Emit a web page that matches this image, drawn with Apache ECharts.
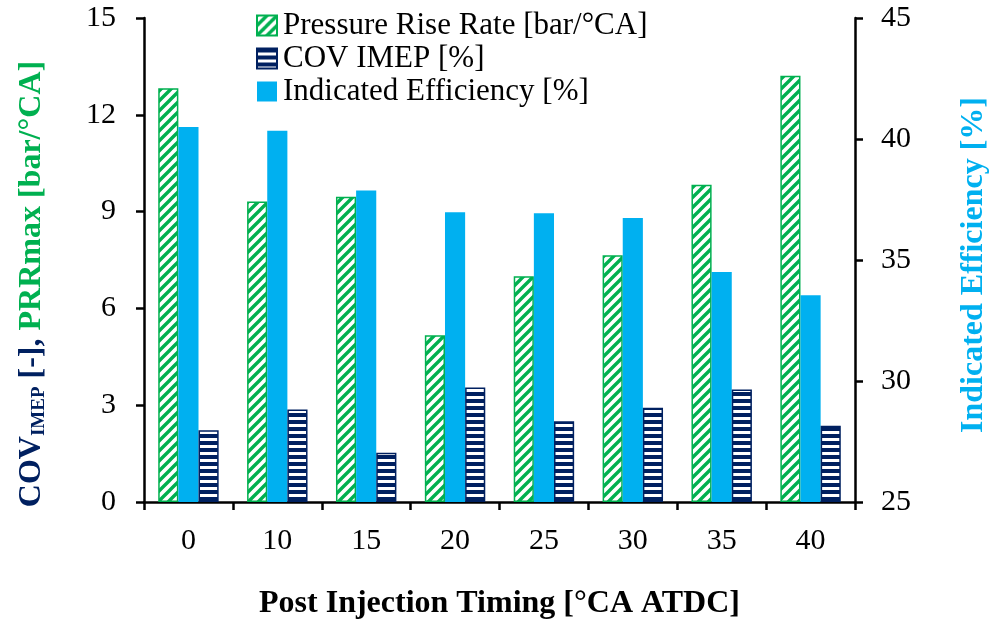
<!DOCTYPE html>
<html>
<head>
<meta charset="utf-8">
<script src="https://cdn.jsdelivr.net/npm/echarts@6/dist/echarts.min.js"></script>
<style>html,body{margin:0;padding:0;background:#fff}#c{width:993px;height:625px}</style>
</head>
<body>
<div id="c"></div>
<script>
const categories = ['0', '10', '15', '20', '25', '30', '35', '40'];
const prrValues = [12.82, 9.31, 9.46, 5.17, 7.0, 7.65, 9.83, 13.21];
const covValues = [2.22, 2.87, 1.53, 3.55, 2.50, 2.92, 3.49, 2.36];
const effValues = [40.5, 40.34, 37.87, 36.97, 36.93, 36.74, 34.5, 33.54];
const leftTicks = [0, 15, 3];
const rightTicks = [25, 45, 5];

const GREEN = '#00B050', NAVY = '#002060', BLUE = '#00B0F0';
const FONT = '"Liberation Serif", "Times New Roman", serif';

function hatchGreen() {
  const c = document.createElement('canvas');
  c.width = 10; c.height = 10;
  const g = c.getContext('2d');
  g.fillStyle = '#fff'; g.fillRect(0, 0, 10, 10);
  g.strokeStyle = GREEN; g.lineWidth = 3.4;
  g.beginPath();
  g.moveTo(-5, 5); g.lineTo(5, -5);
  g.moveTo(0, 10); g.lineTo(10, 0);
  g.moveTo(5, 15); g.lineTo(15, 5);
  g.stroke();
  return c;
}
function stripeNavy() {
  const c = document.createElement('canvas');
  c.width = 4; c.height = 7;
  const g = c.getContext('2d');
  g.fillStyle = '#fff'; g.fillRect(0, 0, 4, 7);
  g.fillStyle = NAVY; g.fillRect(0, 0, 4, 4);
  return c;
}

const chart = echarts.init(document.getElementById('c'), null, {renderer: 'canvas'});
const labelStyle = {color: '#000', fontFamily: FONT, fontSize: 30};
const axisLine = {show: true, lineStyle: {color: '#000', width: 2.5}};
const axisTick = {show: true, inside: false, length: 8, lineStyle: {color: '#000', width: 2.5}};

chart.setOption({
  animation: false,
  backgroundColor: '#fff',
  grid: {left: 144, right: 138, top: 18, bottom: 123, containLabel: false},
  legend: {
    orient: 'vertical', left: 251, top: 5,
    icon: 'rect',
    itemWidth: 20, itemHeight: 20, itemGap: 2,
    data: ['Pressure Rise Rate [bar/°CA]', 'COV IMEP [%]', 'Indicated Efficiency [%]'],
    textStyle: {color: '#000', fontFamily: FONT, fontSize: 31, padding: [0, 0, 0, 1]}
  },
  xAxis: {
    type: 'category', data: categories,
    axisLine: axisLine,
    axisTick: Object.assign({alignWithLabel: false}, axisTick),
    axisLabel: Object.assign({margin: 24}, labelStyle),
    name: 'Post Injection Timing [°CA ATDC]', nameLocation: 'middle', nameGap: 86,
    nameTextStyle: {color: '#000', fontFamily: FONT, fontSize: 32, fontWeight: 'bold'}
  },
  yAxis: [
    {
      type: 'value', min: leftTicks[0], max: leftTicks[1], interval: leftTicks[2], position: 'left',
      axisLine: axisLine, axisTick: axisTick, splitLine: {show: false},
      axisLabel: Object.assign({margin: 28}, labelStyle)
    },
    {
      type: 'value', min: rightTicks[0], max: rightTicks[1], interval: rightTicks[2], position: 'right',
      axisLine: axisLine, axisTick: axisTick, splitLine: {show: false},
      axisLabel: Object.assign({margin: 26}, labelStyle)
    }
  ],
  series: [
    {
      name: 'Pressure Rise Rate [bar/°CA]', type: 'bar', yAxisIndex: 0, data: prrValues,
      barGap: '0%', barCategoryGap: '32%',
      itemStyle: {color: {image: hatchGreen(), repeat: 'repeat'}, borderColor: GREEN, borderWidth: 1.5}
    },
    {
      name: 'Indicated Efficiency [%]', type: 'bar', yAxisIndex: 1, data: effValues,
      barGap: '0%', barCategoryGap: '32%',
      itemStyle: {color: BLUE}
    },
    {
      name: 'COV IMEP [%]', type: 'bar', yAxisIndex: 0, data: covValues,
      barGap: '0%', barCategoryGap: '32%',
      itemStyle: {color: {image: stripeNavy(), repeat: 'repeat'}, borderColor: NAVY, borderWidth: 1.5}
    }
  ],
  graphic: [
    {
      type: 'text', x: 32, y: 284, rotation: Math.PI / 2,
      style: {
        text: '{a|COV}{s|IMEP}{a| [-], }{g|PRRmax [bar/°CA]}',
        align: 'center', verticalAlign: 'middle',
        rich: {
          a: {fill: NAVY, fontFamily: FONT, fontSize: 32, fontWeight: 'bold'},
          s: {fill: NAVY, fontFamily: FONT, fontSize: 19, fontWeight: 'bold', verticalAlign: 'bottom', padding: [14, 0, 0, 0]},
          g: {fill: GREEN, fontFamily: FONT, fontSize: 32, fontWeight: 'bold'}
        }
      }
    },
    {
      type: 'text', x: 974, y: 265, rotation: Math.PI / 2,
      style: {
        text: 'Indicated Efficiency [%]', align: 'center', verticalAlign: 'middle',
        fill: BLUE, fontFamily: FONT, fontSize: 32, fontWeight: 'bold'
      }
    }
  ]
});
</script>
</body>
</html>
